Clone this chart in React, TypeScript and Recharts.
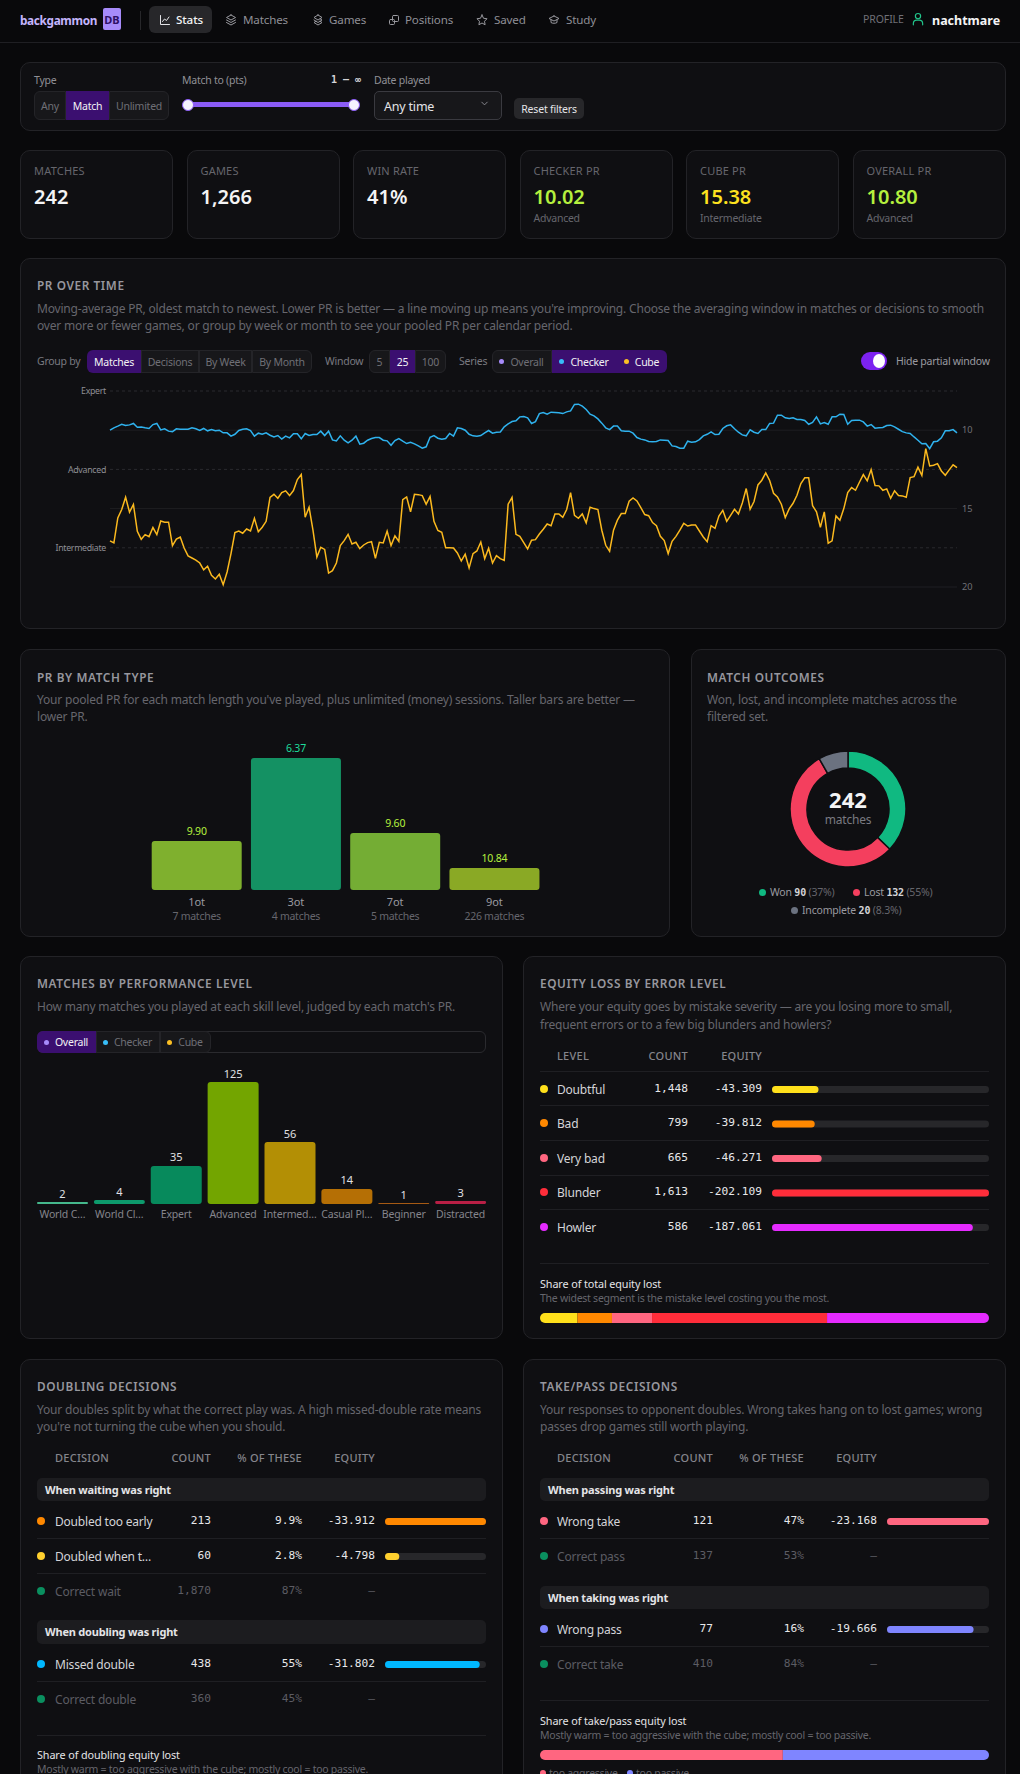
import React from 'react';
import { LineChart, Line, XAxis, YAxis, ReferenceLine, BarChart, Bar, Cell, PieChart, Pie } from 'recharts';

const SANS = '"Noto Sans", sans-serif';
const MONO = '"DejaVu Sans Mono", monospace';

// PR over time (moving average, oldest to newest)
const checkerPR = [
  10.00,9.85,9.74,9.62,9.70,9.66,9.57,9.81,9.79,9.85,9.89,9.64,9.57,9.98,9.91,10.06,10.09,9.91,9.94,9.94,
  9.94,9.85,9.91,10.02,9.89,10.04,9.96,10.04,10.00,10.17,10.17,10.38,10.26,10.02,9.94,9.91,10.02,10.38,10.19,10.26,
  10.17,10.32,10.43,10.34,10.57,10.38,10.49,10.23,10.23,10.55,10.21,10.34,10.28,10.28,10.06,10.34,10.06,10.62,10.68,10.36,
  10.64,10.81,10.64,10.38,10.89,10.83,10.64,10.53,10.47,10.47,10.64,10.68,10.96,10.66,10.53,10.70,10.85,10.77,10.87,11.00,
  11.15,11.06,10.45,10.34,10.51,10.57,10.53,10.21,10.38,9.85,9.89,10.00,10.26,10.36,10.38,10.34,10.17,10.02,10.19,10.13,
  10.11,9.79,9.60,9.45,9.40,9.15,9.13,9.21,9.57,9.45,8.94,8.87,8.98,8.85,8.87,8.89,8.94,8.83,8.77,8.36,
  8.34,8.47,8.68,8.98,9.09,9.28,9.55,9.85,9.96,9.74,9.74,10.04,10.06,10.06,10.19,10.47,10.57,10.62,10.72,10.74,
  10.72,10.62,10.64,10.66,11.00,11.04,11.15,11.15,10.70,10.77,10.74,10.60,10.36,10.26,10.11,10.28,10.26,9.89,9.72,9.66,
  9.91,10.13,10.30,10.36,9.98,10.13,10.21,9.96,9.96,9.57,9.55,9.04,9.04,9.21,9.26,9.21,9.32,9.32,9.38,9.62,
  9.51,9.15,9.60,9.51,9.62,9.15,9.15,8.98,9.00,9.62,9.38,9.36,9.36,9.47,9.74,9.64,9.87,9.85,9.83,9.70,
  9.68,9.79,9.94,10.09,10.17,10.21,10.43,10.64,10.87,10.85,11.17,10.74,10.70,10.49,10.04,10.04,9.96,10.17,
];
const cubePR = [
  17.06,17.19,15.60,15.06,14.28,15.23,14.74,16.45,16.96,16.66,16.79,16.21,16.66,15.79,15.87,15.87,17.36,16.94,16.81,17.51,
  18.02,18.15,18.28,18.47,18.91,18.68,19.26,19.49,19.19,19.85,19.04,17.87,16.53,16.43,16.57,16.30,16.43,15.62,16.47,16.19,
  15.81,14.28,14.09,14.34,13.98,13.87,14.17,13.85,13.15,12.83,15.55,14.91,16.38,18.09,17.47,17.60,19.11,18.96,18.47,17.36,
  17.04,16.64,17.26,17.15,17.55,17.32,17.17,17.11,18.17,17.15,17.19,16.43,17.36,16.74,17.09,14.43,14.26,15.21,14.09,14.11,
  14.17,14.72,14.23,15.81,16.40,16.51,17.49,17.49,17.51,17.83,18.34,17.91,18.79,17.87,17.70,17.13,18.19,17.53,18.47,18.00,
  18.19,18.30,14.72,14.28,16.64,16.77,17.17,17.57,17.02,16.98,16.62,16.32,15.98,16.09,15.34,15.34,15.55,15.06,13.98,15.43,
  15.62,15.34,15.91,14.91,15.00,15.06,16.38,17.34,17.72,16.38,15.74,15.32,15.32,14.53,14.32,14.51,14.94,15.38,15.45,15.89,
  16.09,16.77,17.04,17.87,17.09,16.77,16.38,15.94,16.11,16.04,16.04,16.43,16.81,17.11,16.09,16.26,15.47,15.11,15.81,15.43,
  15.04,15.34,14.64,13.72,15.04,14.55,13.49,13.19,12.72,13.21,14.02,14.26,14.72,15.57,15.02,14.66,14.15,13.40,13.04,13.04,
  14.81,15.21,16.19,15.21,17.21,17.06,15.47,15.74,15.00,13.98,13.66,13.83,13.32,12.83,13.23,12.51,13.53,13.55,13.83,13.74,
  14.34,13.87,14.17,14.19,14.28,13.02,12.96,12.36,12.89,11.17,12.28,12.23,12.13,12.60,12.87,12.53,12.21,12.38,
];
const levelTicks = [7.5, 12.5, 17.5];
const levelNames = ['Expert', 'Advanced', 'Intermediate'];
const prTicks = [10, 15, 20];

// PR by match type
const matchTypes = ['1ot', '3ot', '7ot', '9ot'];
const matchTypeCounts = ['7 matches', '4 matches', '5 matches', '226 matches'];
const matchTypePR = ['9.90', '6.37', '9.60', '10.84'];
const matchTypeScore = [2.09, 5.63, 2.43, 0.94];
const matchTypeColors = ['#7fb02e', '#149163', '#74ad34', '#8aa925'];
const matchTypeLabelColors = ['#b5f03e', '#1edc9c', '#b5f03e', '#b5f03e'];

// Match outcomes
const outcomeNames = ['Won', 'Lost', 'Incomplete'];
const outcomeValues = [90, 132, 20];
const outcomeColors = ['#10b981', '#f43f5e', '#6b7280'];

// Performance level
const perfLevels = ['World C…', 'World Cl…', 'Expert', 'Advanced', 'Intermed…', 'Casual Pl…', 'Beginner', 'Distracted'];
const perfCounts = [2, 4, 35, 125, 56, 14, 1, 3];
const perfBarValues = [2, 4, 39, 125, 63.5, 15.4, 1, 3];
const perfColors = ['#45b88c', '#0d9a6c', '#078a5c', '#73a500', '#b38f05', '#b56f05', '#a65a14', '#b81f45'];

// Equity loss by error level
const errorLevels = ['Doubtful', 'Bad', 'Very bad', 'Blunder', 'Howler'];
const errorCounts = ['1,448', '799', '665', '1,613', '586'];
const errorEquity = [43.309, 39.812, 46.271, 202.109, 187.061];
const errorColors = ['#ffe01b', '#ff8800', '#ff6680', '#ff2d3a', '#e52bff'];

// Doubling decisions
const waitNames = ['Doubled too early', 'Doubled when t…', 'Correct wait'];
const waitCounts = ['213', '60', '1,870'];
const waitPct = ['9.9%', '2.8%', '87%'];
const waitEquity = [33.912, 4.798, 0];
const waitColors = ['#ff8800', '#ffd02e', '#0a8f5f'];
const doubleNames = ['Missed double', 'Correct double'];
const doubleCounts = ['438', '360'];
const doublePct = ['55%', '45%'];
const doubleEquity = [31.802, 0];
const doubleColors = ['#00b8ff', '#0a8f5f'];

// Take/pass decisions
const passNames = ['Wrong take', 'Correct pass'];
const passCounts = ['121', '137'];
const passPct = ['47%', '53%'];
const passEquity = [23.168, 0];
const passColors = ['#ff6680', '#0a8f5f'];
const takeNames = ['Wrong pass', 'Correct take'];
const takeCounts = ['77', '410'];
const takePct = ['16%', '84%'];
const takeEquity = [19.666, 0];
const takeColors = ['#7f85ff', '#0a8f5f'];

const C = { bg: '#09090b', card: '#0f0f12', border: '#232327', track: '#27272a', dim: '#6f6f76', mid: '#8f8f96', hi: '#e8e8ea', purple: '#3b0f70', seg: '#17171a' };

const T = ({ x, y, c = C.mid, s = 12, w = 400, a = 'left', f = SANS, ls = 0, children }: any) => (
  <div style={{ position: 'absolute', top: y, left: a === 'right' ? undefined : x, right: a === 'right' ? 1020 - x : undefined,
    transform: a === 'center' ? 'translate(-50%,-50%)' : 'translateY(-50%)', color: c, fontSize: s, fontWeight: w, fontFamily: f,
    letterSpacing: ls, whiteSpace: 'nowrap', lineHeight: 1.2 }}>{children}</div>
);
const Box = ({ x, y, w, h, bg, b, r = 0, style }: any) => (
  <div style={{ position: 'absolute', left: x, top: y, width: w, height: h, background: bg, border: b ? `1px solid ${b}` : undefined, borderRadius: r, boxSizing: 'border-box', ...style }} />
);
const Card = ({ x, y, w, h }: any) => <Box x={x} y={y} w={w} h={h} bg={C.card} b={C.border} r={10} />;
const HLine = ({ x, y, w }: any) => <Box x={x} y={y} w={w} h={1} bg="#1f1f23" />;
const Dot = ({ x, y, c, r = 4 }: any) => <Box x={x - r} y={y - r} w={r * 2} h={r * 2} bg={c} r="50%" />;
const Title = ({ x, y, children }: any) => <T x={x} y={y + 1} s={11.8} w={600} c="#97979e" ls={0.6}>{children}</T>;
const Desc = ({ x, y, children }: any) => <T x={x} y={y} s={12} c="#66666d" ls={-0.19}>{children}</T>;
const Lab = ({ x, y, c = '#7a7a81', children }: any) => <T x={x} y={y} s={10.5} c={c} ls={-0.25}>{children}</T>;
const Note = ({ x, y, children }: any) => <T x={x} y={y} s={10.5} c="#66666d" ls={-0.25}>{children}</T>;

const Seg = ({ x, y, h, items }: any) => (
  <>
    {items.map((it: any, i: number) => {
      const from = i === 0 ? x : items[i - 1].to;
      return (
        <React.Fragment key={i}>
          <Box x={from} y={y} w={it.to - from} h={h} bg={it.on ? C.purple : C.seg} b={it.on ? undefined : '#242428'}
            style={{ borderRadius: i === 0 ? '6px 0 0 6px' : i === items.length - 1 ? '0 6px 6px 0' : 0 }} />
          {it.dot && <Dot x={from + 9} y={y + h / 2} c={it.dot} r={2.5} />}
          <T x={(from + it.to) / 2 + (it.dot ? 5 : 0)} y={y + h / 2} a="center" s={10.5} ls={-0.25} c={it.on ? '#f2f2f4' : '#6f6f76'}>{it.t}</T>
        </React.Fragment>
      );
    })}
  </>
);

const Icon = ({ x, y, c = '#9a9aa0', children, s = 12 }: any) => (
  <svg style={{ position: 'absolute', left: x, top: y }} width={s} height={s} viewBox="0 0 24 24" fill="none" stroke={c} strokeWidth={2} strokeLinecap="round" strokeLinejoin="round">{children}</svg>
);

const RowBars = ({ x, y, w, rowH, values, colors, max, barSize = 7 }: any) => {
  const data = values.map((v: number, i: number) => ({ k: i, v }));
  return (
    <div style={{ position: 'absolute', left: x, top: y }}>
      <BarChart width={w} height={rowH * values.length} data={data} layout="vertical" margin={{ top: 0, right: 0, bottom: 0, left: 0 }} barCategoryGap={0}>
        <XAxis type="number" hide domain={[0, max]} />
        <YAxis type="category" dataKey="k" hide />
        <Bar dataKey="v" barSize={barSize} radius={3.5} isAnimationActive={false} background={{ fill: C.track, radius: 3.5 } as any}>
          {data.map((_: any, i: number) => <Cell key={i} fill={colors[i]} />)}
        </Bar>
      </BarChart>
    </div>
  );
};

const ShareBar = ({ x, y, w, h, values, colors }: any) => {
  const row: any = { k: 'share' };
  values.forEach((v: number, i: number) => { row['s' + i] = v; });
  const total = values.reduce((a: number, b: number) => a + b, 0);
  return (
    <div style={{ position: 'absolute', left: x, top: y }}>
      <BarChart width={w} height={h} data={[row]} layout="vertical" margin={{ top: 0, right: 0, bottom: 0, left: 0 }} barCategoryGap={0}>
        <XAxis type="number" hide domain={[0, total]} />
        <YAxis type="category" dataKey="k" hide />
        {values.map((_: number, i: number) => (
          <Bar key={i} dataKey={'s' + i} stackId="a" fill={colors[i]} isAnimationActive={false}
            radius={i === 0 ? [5, 0, 0, 5] : i === values.length - 1 ? [0, 5, 5, 0] : 0} />
        ))}
      </BarChart>
    </div>
  );
};

const TableRows = ({ rows, names, counts, pct, equity, colors, dotX, nameX, countX, pctX, eqX }: any) => (
  <>
    {rows.map((y: number, i: number) => {
      const muted = equity[i] === 0;
      const nc = muted ? '#5c5c63' : '#d4d4d8';
      const vc = muted ? '#5c5c63' : '#e8e8ea';
      return (
        <React.Fragment key={i}>
          <Dot x={dotX} y={y} c={colors[i]} />
          <T x={nameX} y={y + 0.5} s={12} c={nc} ls={-0.2}>{names[i]}</T>
          <T x={countX} y={y} a="right" s={11.2} f={MONO} c={vc}>{counts[i]}</T>
          {pct && <T x={pctX} y={y} a="right" s={11.2} f={MONO} c={vc}>{pct[i]}</T>}
          <T x={eqX} y={y} a="right" s={11.2} f={MONO} c={vc}>{muted ? '—' : '-' + equity[i].toFixed(3)}</T>
        </React.Fragment>
      );
    })}
  </>
);

const Head = ({ x, y, a, children }: any) => <T x={x} y={y} a={a} s={11} w={500} c="#85858c" ls={0.25}>{children}</T>;

const prData = checkerPR.map((v, i) => ({ i, checker: v, cube: cubePR[i] }));
const matchTypeData = matchTypes.map((m, i) => ({ m, score: matchTypeScore[i] }));
const outcomeData = outcomeNames.map((n, i) => ({ n, v: outcomeValues[i] }));
const perfData = perfLevels.map((l, i) => ({ l, v: perfBarValues[i] }));

const navItems = [
  { t: 'Matches', ix: 225, tx: 243 }, { t: 'Games', ix: 312, tx: 329 }, { t: 'Positions', ix: 388, tx: 405 },
  { t: 'Saved', ix: 476, tx: 494 }, { t: 'Study', ix: 548, tx: 566 },
];
const navIcons: Record<string, any> = {
  Matches: <><path d="M12 2 3 7l9 5 9-5-9-5Z" /><path d="m3 12 9 5 9-5" /><path d="m3 17 9 5 9-5" /></>,
  Games: <><path d="M12 2 4 7l8 5 8-5-8-5Z" /><path d="m4 12 8 5 8-5-4-2.5" /><path d="m8 14.5-4 2.5 8 5 8-5-4-2.5" /></>,
  Positions: <><rect x="9" y="3" width="12" height="12" rx="2" /><rect x="3" y="11" width="10" height="10" rx="2" /></>,
  Saved: <path d="m12 2 3 6.5 7 1-5 5 1.2 7L12 18l-6.2 3.5L7 14.5l-5-5 7-1L12 2Z" />,
  Study: <><path d="M12 4 2 9l10 5 10-5-10-5Z" /><path d="M6 12v5c2 2 10 2 12 0v-5" /></>,
};
const kpis = [
  { x: 20, l: 'MATCHES', v: '242', c: '#f4f4f5' }, { x: 186.5, l: 'GAMES', v: '1,266', c: '#f4f4f5' }, { x: 353, l: 'WIN RATE', v: '41%', c: '#f4f4f5' },
  { x: 519.5, l: 'CHECKER PR', v: '10.02', c: '#b5f03e', sub: 'Advanced' }, { x: 686, l: 'CUBE PR', v: '15.38', c: '#fde21f', sub: 'Intermediate' }, { x: 852.5, l: 'OVERALL PR', v: '10.80', c: '#b5f03e', sub: 'Advanced' },
];

export default function App() {
  return (
    <div style={{ position: 'absolute', left: 0, top: 0, width: 1020, height: 1774, overflow: 'hidden', background: C.bg, fontFamily: SANS }}>
      {/* Header */}
      <HLine x={0} y={42} w={1020} />
      <T x={20} y={20} s={11.8} w={700} c="#c4b5fd" ls={-0.35}>backgammon</T>
      <Box x={103} y={8} w={18} h={22} bg="#a78bfa" r={2} />
      <T x={112} y={20} a="center" s={11} w={700} c="#2e1065">DB</T>
      <Box x={140} y={11} w={1} h={19} bg="#27272a" />
      <Box x={149} y={6} w={63} h={27} bg="#27272a" r={6} />
      <Icon x={159} y={14} c="#e4e4e7"><path d="M3 3v18h18" /><path d="m7 15 4-5 4 3 5-7" /></Icon>
      <T x={176} y={20} s={11.6} w={500} c="#f4f4f5" ls={-0.1}>Stats</T>
      {navItems.map((n) => (
        <React.Fragment key={n.t}>
          <Icon x={n.ix} y={14}>{navIcons[n.t]}</Icon>
          <T x={n.tx} y={20} s={11.6} c="#8f8f96" ls={-0.15}>{n.t}</T>
        </React.Fragment>
      ))}
      <T x={863} y={19} s={10.5} c="#6f6f76" ls={-0.1}>PROFILE</T>
      <Icon x={911} y={12} s={14} c="#22c58b"><circle cx="12" cy="7" r="4.5" /><path d="M4 22v-2a6 6 0 0 1 6-6h4a6 6 0 0 1 6 6v2" /></Icon>
      <T x={932} y={20} s={12.5} w={700} c="#f4f4f5">nachtmare</T>

      {/* Filters */}
      <Card x={20} y={62} w={985.5} h={69} />
      <Lab x={34} y={80} c="#8f8f96">Type</Lab>
      <Seg x={34} y={91} h={29} items={[{ t: 'Any', to: 66 }, { t: 'Match', to: 109, on: true }, { t: 'Unlimited', to: 169 }]} />
      <Lab x={182} y={80} c="#8f8f96">Match to (pts)</Lab>
      <T x={361} y={80} a="right" s={10} w={700} f={MONO} c="#d4d4d8">1 – ∞</T>
      <Box x={188} y={102} w={166} h={5} bg="#8b5cf6" r={3} />
      <Box x={182} y={99} w={12} h={12} bg="#f5f3ff" b="#8b5cf6" r="50%" />
      <Box x={348} y={99} w={12} h={12} bg="#f5f3ff" b="#8b5cf6" r="50%" />
      <Lab x={374} y={80} c="#8f8f96">Date played</Lab>
      <Box x={374} y={91} w={128} h={29} bg={C.seg} b="#3a3a40" r={5} />
      <T x={384} y={106} s={12.5} c="#e4e4e7" ls={-0.2}>Any time</T>
      <Icon x={479} y={98} s={11} c="#8f8f96"><path d="m6 9 6 6 6-6" /></Icon>
      <Box x={514} y={98} w={70} h={21} bg="#27272a" r={5} />
      <T x={549} y={108.5} a="center" s={10.5} ls={-0.2} c="#e4e4e7">Reset filters</T>

      {/* KPI cards */}
      {kpis.map((k) => (
        <React.Fragment key={k.l}>
          <Card x={k.x} y={150} w={153} h={88.5} />
          <T x={k.x + 14} y={171} s={11} c="#66666d" ls={0.2}>{k.l}</T>
          <T x={k.x + 14} y={197} s={20} w={600} c={k.c}>{k.v}</T>
          {k.sub && <Note x={k.x + 14} y={218}>{k.sub}</Note>}
        </React.Fragment>
      ))}

      {/* PR over time */}
      <Card x={20} y={258} w={985.5} h={371} />
      <Title x={37} y={284}>PR OVER TIME</Title>
      <Desc x={37} y={309}>Moving-average PR, oldest match to newest. Lower PR is better — a line moving up means you're improving. Choose the averaging window in matches or decisions to smooth</Desc>
      <Desc x={37} y={326}>over more or fewer games, or group by week or month to see your pooled PR per calendar period.</Desc>
      <Lab x={37} y={361}>Group by</Lab>
      <Seg x={87} y={350} h={23} items={[{ t: 'Matches', to: 141, on: true }, { t: 'Decisions', to: 199 }, { t: 'By Week', to: 252 }, { t: 'By Month', to: 312 }]} />
      <Lab x={325} y={361}>Window</Lab>
      <Seg x={369} y={350} h={23} items={[{ t: '5', to: 390 }, { t: '25', to: 415, on: true }, { t: '100', to: 446 }]} />
      <Lab x={459} y={361}>Series</Lab>
      <Seg x={492} y={350} h={23} items={[{ t: 'Overall', to: 552, dot: '#a78bfa' }, { t: 'Checker', to: 617, on: true, dot: '#38bdf8' }, { t: 'Cube', to: 667, on: true, dot: '#fbbf24' }]} />
      <Box x={861} y={352} w={26} h={18} bg="#7c22f0" r={9} />
      <Box x={873} y={354} w={12} h={14} bg="#ffffff" r="50%" />
      <Lab x={896} y={361} c="#9a9aa0">Hide partial window</Lab>
      <div style={{ position: 'absolute', left: 20, top: 380 }}>
        <LineChart width={985} height={210} data={prData} margin={{ top: 11, right: 0, bottom: 3, left: 0 }}>
          <XAxis dataKey="i" hide />
          <YAxis yAxisId="l" orientation="left" width={90} reversed domain={[7.5, 20]} ticks={levelTicks} interval={0}
            tickFormatter={(v: number) => levelNames[levelTicks.indexOf(v)]} tick={{ fill: '#8f8f96', fontSize: 8.8, fontFamily: SANS, letterSpacing: -0.3 }} axisLine={false} tickLine={false} tickSize={0} tickMargin={4} />
          <YAxis yAxisId="r" orientation="right" width={48} reversed domain={[7.5, 20]} ticks={prTicks} interval={0}
            tick={{ fill: '#6f6f76', fontSize: 9.2, fontFamily: SANS }} axisLine={false} tickLine={false} tickSize={0} tickMargin={5} />
          {levelTicks.map((t) => <ReferenceLine key={t} yAxisId="l" y={t} stroke="#2a2a2e" strokeDasharray="3 3" />)}
          {prTicks.map((t) => <ReferenceLine key={t} yAxisId="l" y={t} stroke="#1e1e22" />)}
          <Line yAxisId="r" dataKey="checker" stroke="#2fb2ee" strokeWidth={1.5} dot={false} isAnimationActive={false} />
          <Line yAxisId="l" dataKey="cube" stroke="#fbb91e" strokeWidth={1.5} dot={false} isAnimationActive={false} />
        </LineChart>
      </div>

      {/* PR by match type */}
      <Card x={20} y={649} w={650} h={287.5} />
      <Title x={37} y={676}>PR BY MATCH TYPE</Title>
      <Desc x={37} y={700}>Your pooled PR for each match length you've played, plus unlimited (money) sessions. Taller bars are better —</Desc>
      <Desc x={37} y={717}>lower PR.</Desc>
      <div style={{ position: 'absolute', left: 147, top: 738 }}>
        <BarChart width={397} height={192} data={matchTypeData} margin={{ top: 20, right: 0, bottom: 0, left: 0 }} barCategoryGap={4.7}>
          <XAxis dataKey="m" height={40} interval={0} axisLine={false} tickLine={false}
            tick={(p: any) => (
              <g>
                <text x={p.x} y={p.y + 3} textAnchor="middle" dominantBaseline="central" fontSize={11} fill="#9a9aa0" fontFamily={SANS}>{matchTypes[p.index]}</text>
                <text x={p.x} y={p.y + 18} textAnchor="middle" dominantBaseline="central" fontSize={10.5} letterSpacing={-0.25} fill="#66666d" fontFamily={SANS}>{matchTypeCounts[p.index]}</text>
              </g>
            )} />
          <YAxis hide domain={[0, 5.63]} />
          <Bar dataKey="score" radius={3} isAnimationActive={false}
            label={(p: any) => <text x={p.x + p.width / 2} y={p.y - 10} textAnchor="middle" dominantBaseline="central" fontSize={10.5} letterSpacing={-0.2} fontFamily={SANS} fill={matchTypeLabelColors[p.index]}>{matchTypePR[p.index]}</text>}>
            {matchTypes.map((_, i) => <Cell key={i} fill={matchTypeColors[i]} />)}
          </Bar>
        </BarChart>
      </div>

      {/* Match outcomes */}
      <Card x={691} y={649} w={314.5} h={287.5} />
      <Title x={707} y={676}>MATCH OUTCOMES</Title>
      <Desc x={707} y={700}>Won, lost, and incomplete matches across the</Desc>
      <Desc x={707} y={717}>filtered set.</Desc>
      <div style={{ position: 'absolute', left: 768, top: 729 }}>
        <PieChart width={160} height={160} margin={{ top: 0, right: 0, bottom: 0, left: 0 }}>
          <Pie data={outcomeData} dataKey="v" nameKey="n" cx={80} cy={80} innerRadius={41} outerRadius={58} startAngle={90} endAngle={-270}
            stroke={C.card} strokeWidth={1.5} isAnimationActive={false}>
            {outcomeData.map((_, i) => <Cell key={i} fill={outcomeColors[i]} />)}
          </Pie>
        </PieChart>
      </div>
      <T x={848} y={799} a="center" s={22} w={700} c="#f4f4f5">242</T>
      <T x={848} y={820} a="center" s={12} ls={-0.2} c="#7a7a81">matches</T>
      <Dot x={762} y={892} c={outcomeColors[0]} r={3.5} />
      <T x={770} y={892} s={10.5} ls={-0.2} c="#9a9aa0">Won <span style={{ fontFamily: MONO, fontSize: 10, color: '#d4d4d8', fontWeight: 700 }}>90</span> <span style={{ color: '#66666d' }}>(37%)</span></T>
      <Dot x={856} y={892} c={outcomeColors[1]} r={3.5} />
      <T x={864} y={892} s={10.5} ls={-0.2} c="#9a9aa0">Lost <span style={{ fontFamily: MONO, fontSize: 10, color: '#d4d4d8', fontWeight: 700 }}>132</span> <span style={{ color: '#66666d' }}>(55%)</span></T>
      <Dot x={794} y={910} c={outcomeColors[2]} r={3.5} />
      <T x={802} y={910} s={10.5} ls={-0.2} c="#9a9aa0">Incomplete <span style={{ fontFamily: MONO, fontSize: 10, color: '#d4d4d8', fontWeight: 700 }}>20</span> <span style={{ color: '#66666d' }}>(8.3%)</span></T>

      {/* Matches by performance */}
      <Card x={20} y={956} w={482.5} h={383} />
      <Title x={37} y={982}>MATCHES BY PERFORMANCE LEVEL</Title>
      <Desc x={37} y={1007}>How many matches you played at each skill level, judged by each match's PR.</Desc>
      <Box x={37} y={1031} w={449} h={22} b="#2a2a2e" r={6} />
      <Seg x={37} y={1031} h={22} items={[{ t: 'Overall', to: 96, on: true, dot: '#a78bfa' }, { t: 'Checker', to: 160, dot: '#38bdf8' }, { t: 'Cube', to: 211, dot: '#fbbf24' }]} />
      <div style={{ position: 'absolute', left: 34, top: 1062 }}>
        <BarChart width={455} height={166} data={perfData} margin={{ top: 20, right: 0, bottom: 0, left: 0 }} barCategoryGap={3}>
          <XAxis dataKey="l" height={24} interval={0} axisLine={false} tickLine={false}
            tick={(p: any) => <text x={p.x} y={p.y + 2} textAnchor="middle" dominantBaseline="central" fontSize={10.5} letterSpacing={-0.15} fill="#85858c" fontFamily={SANS}>{perfLevels[p.index]}</text>} />
          <YAxis hide domain={[0, 125]} />
          <Bar dataKey="v" radius={3} isAnimationActive={false}
            label={(p: any) => <text x={p.x + p.width / 2} y={p.y - 9} textAnchor="middle" dominantBaseline="central" fontSize={11} fill="#e0e0e3" fontFamily={SANS}>{perfCounts[p.index]}</text>}>
            {perfLevels.map((_, i) => <Cell key={i} fill={perfColors[i]} />)}
          </Bar>
        </BarChart>
      </div>

      {/* Equity loss by error level */}
      <Card x={523} y={956} w={482.5} h={383} />
      <Title x={540} y={982}>EQUITY LOSS BY ERROR LEVEL</Title>
      <Desc x={540} y={1007}>Where your equity goes by mistake severity — are you losing more to small,</Desc>
      <Desc x={540} y={1025}>frequent errors or to a few big blunders and howlers?</Desc>
      <Head x={557} y={1056}>LEVEL</Head>
      <Head x={688} y={1056} a="right">COUNT</Head>
      <Head x={762} y={1056} a="right">EQUITY</Head>
      {[1071, 1105, 1140, 1175, 1209].map((y) => <HLine key={y} x={540} y={y} w={449} />)}
      <TableRows rows={[1089, 1123, 1158, 1192, 1227]} names={errorLevels} counts={errorCounts} equity={errorEquity} colors={errorColors}
        dotX={544} nameX={557} countX={688} eqX={762} />
      <RowBars x={772} y={1071.75} w={217} rowH={34.5} values={errorEquity} colors={errorColors} max={202.109} />
      <HLine x={540} y={1263} w={449} />
      <T x={540} y={1284} s={10.8} ls={-0.1} c="#e4e4e7">Share of total equity lost</T>
      <Note x={540} y={1298}>The widest segment is the mistake level costing you the most.</Note>
      <ShareBar x={540} y={1313} w={449} h={10} values={errorEquity} colors={errorColors} />

      {/* Doubling decisions */}
      <Card x={20} y={1359} w={482.5} h={460} />
      <Title x={37} y={1385}>DOUBLING DECISIONS</Title>
      <Desc x={37} y={1410}>Your doubles split by what the correct play was. A high missed-double rate means</Desc>
      <Desc x={37} y={1427}>you're not turning the cube when you should.</Desc>
      <Head x={55} y={1458}>DECISION</Head>
      <Head x={211} y={1458} a="right">COUNT</Head>
      <Head x={302} y={1458} a="right">% OF THESE</Head>
      <Head x={375} y={1458} a="right">EQUITY</Head>
      <Box x={37} y={1478} w={449} h={23} bg="#1c1c1f" r={5} />
      <T x={45} y={1490} s={11} w={700} ls={-0.2} c="#e4e4e7">When waiting was right</T>
      <TableRows rows={[1521, 1556, 1591]} names={waitNames} counts={waitCounts} pct={waitPct} equity={waitEquity} colors={waitColors}
        dotX={41} nameX={55} countX={211} pctX={302} eqX={375} />
      {[1538, 1573].map((y) => <HLine key={y} x={37} y={y} w={449} />)}
      <RowBars x={385} y={1503.5} w={101} rowH={35} values={waitEquity} colors={waitColors} max={33.912} />
      <Box x={37} y={1620} w={449} h={24} bg="#1c1c1f" r={5} />
      <T x={45} y={1632} s={11} w={700} ls={-0.2} c="#e4e4e7">When doubling was right</T>
      <TableRows rows={[1664, 1699]} names={doubleNames} counts={doubleCounts} pct={doublePct} equity={doubleEquity} colors={doubleColors}
        dotX={41} nameX={55} countX={211} pctX={302} eqX={375} />
      <HLine x={37} y={1681} w={449} />
      <RowBars x={385} y={1646.5} w={101} rowH={35} values={doubleEquity} colors={doubleColors} max={33.912} />
      <HLine x={37} y={1735} w={449} />
      <T x={37} y={1755} s={10.8} ls={-0.1} c="#e4e4e7">Share of doubling equity lost</T>
      <Note x={37} y={1769}>Mostly warm = too aggressive with the cube; mostly cool = too passive.</Note>

      {/* Take/pass decisions */}
      <Card x={523} y={1359} w={482.5} h={460} />
      <Title x={540} y={1385}>TAKE/PASS DECISIONS</Title>
      <Desc x={540} y={1410}>Your responses to opponent doubles. Wrong takes hang on to lost games; wrong</Desc>
      <Desc x={540} y={1427}>passes drop games still worth playing.</Desc>
      <Head x={557} y={1458}>DECISION</Head>
      <Head x={713} y={1458} a="right">COUNT</Head>
      <Head x={804} y={1458} a="right">% OF THESE</Head>
      <Head x={877} y={1458} a="right">EQUITY</Head>
      <Box x={540} y={1478} w={449} h={23} bg="#1c1c1f" r={5} />
      <T x={548} y={1490} s={11} w={700} ls={-0.2} c="#e4e4e7">When passing was right</T>
      <TableRows rows={[1521, 1556]} names={passNames} counts={passCounts} pct={passPct} equity={passEquity} colors={passColors}
        dotX={544} nameX={557} countX={713} pctX={804} eqX={877} />
      <HLine x={540} y={1538} w={449} />
      <RowBars x={887} y={1503.5} w={102} rowH={35} values={passEquity} colors={passColors} max={23.168} />
      <Box x={540} y={1586} w={449} h={23} bg="#1c1c1f" r={5} />
      <T x={548} y={1598} s={11} w={700} ls={-0.2} c="#e4e4e7">When taking was right</T>
      <TableRows rows={[1629, 1664]} names={takeNames} counts={takeCounts} pct={takePct} equity={takeEquity} colors={takeColors}
        dotX={544} nameX={557} countX={713} pctX={804} eqX={877} />
      <HLine x={540} y={1646} w={449} />
      <RowBars x={887} y={1611.5} w={102} rowH={35} values={takeEquity} colors={takeColors} max={23.168} />
      <HLine x={540} y={1700} w={449} />
      <T x={540} y={1721} s={10.8} ls={-0.1} c="#e4e4e7">Share of take/pass equity lost</T>
      <Note x={540} y={1735}>Mostly warm = too aggressive with the cube; mostly cool = too passive.</Note>
      <ShareBar x={540} y={1750} w={449} h={10} values={[passEquity[0], takeEquity[0]]} colors={[passColors[0], takeColors[0]]} />
      <Dot x={543} y={1773} c={passColors[0]} r={3} />
      <Note x={549} y={1773}>too aggressive</Note>
      <Dot x={630} y={1773} c={takeColors[0]} r={3} />
      <Note x={636} y={1773}>too passive</Note>
    </div>
  );
}
